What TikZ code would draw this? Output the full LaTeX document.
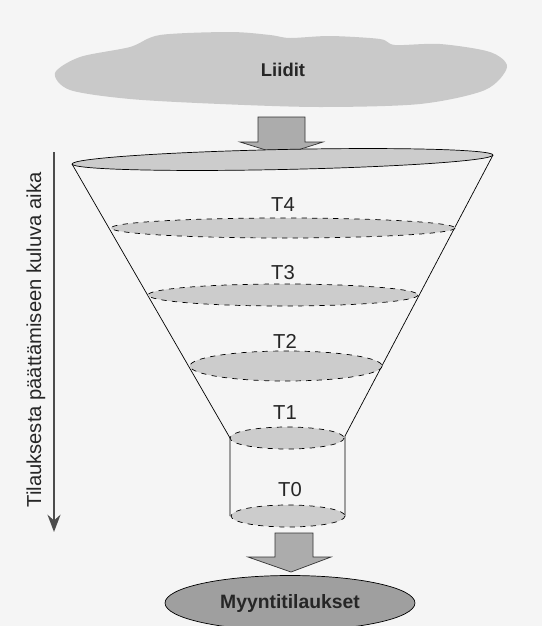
\documentclass[tikz,border=0pt]{standalone}
\usepackage{fontspec}
\setmainfont{Liberation Sans}
\usepackage{xcolor}
\usetikzlibrary{arrows.meta,shapes.geometric}

\begin{document}
\begin{tikzpicture}[x=0.02cm,y=-0.02cm,>=Stealth,
  lvl/.style={draw,dashed,fill=gray!40},
  blk/.style={draw=gray!40!black,fill=gray!65},
  lab/.style={font=\fontsize{11.5}{13}\selectfont,text=black!85}]
\useasboundingbox[fill=gray!8](0,0)rectangle(542,626);
% pilvi
\fill[gray!42]plot[smooth cycle]coordinates{(55,73)(80,57)(130,47)(160,35)(230,32)(270,35)(290,38)(330,36)(380,39)(395,45)(440,44)(490,52)(507,67)(485,90)(420,104)(320,107)(220,104)(130,99)(70,90)};
\node[font=\bfseries\fontsize{10.5}{12}\selectfont,text=black!85](liidit)at(283,70){Liidit};
% nuolet
\draw[blk](258,117)--(305,117)--(305,142)--(323,142)--(282,155)--(240,142)--(258,142)--cycle;
\draw[blk](275,533)--(313,533)--(313,557)--(331,557)--(291,572)--(248,557)--(275,557)--cycle;
% suppilo
\coordinate(tl)at(72,164);
\coordinate(tr)at(493,155);
\coordinate(ml)at(230,438);
\coordinate(mr)at(345,436);
\coordinate(bl)at(230,516);
\coordinate(br)at(345,516);
\draw[fill=gray!40,rotate around={1.22:(282.5,159.5)}](282.5,159.5)ellipse[x radius=210.5,y radius=10];
\draw(tl)--(ml)--(bl);
\draw(tr)--(mr)--(br);
\draw[lvl](283,228)ellipse[x radius=172,y radius=10];
\draw[lvl](283,295)ellipse[x radius=135,y radius=11];
\draw[lvl](286,366)ellipse[x radius=96,y radius=15];
\draw[lvl](287,438)ellipse[x radius=57,y radius=11];
\draw[lvl](288,516)ellipse[x radius=57,y radius=11];
\node[lab](t4)at(283,205){T4};
\node[lab](t3)at(283,273){T3};
\node[lab](t2)at(285,341){T2};
\node[lab](t1)at(285,413){T1};
\node[lab](t0)at(290,490){T0};
% tilaukset
\node[ellipse,draw,fill=gray!75,inner sep=0,minimum width=5cm,minimum height=1.1cm,
  font=\bfseries\fontsize{11}{13}\selectfont,text=black!85](myynti)at(290,603){Myyntitilaukset};
% aika
\coordinate(a1)at(54,152);
\coordinate(a2)at(54,532);
\draw[->,gray!60!black,line width=1.5pt](a1)--(a2);
\node[lab,rotate=90](aika)at(36,340){Tilauksesta päättämiseen kuluva aika};
\end{tikzpicture}
\end{document}
